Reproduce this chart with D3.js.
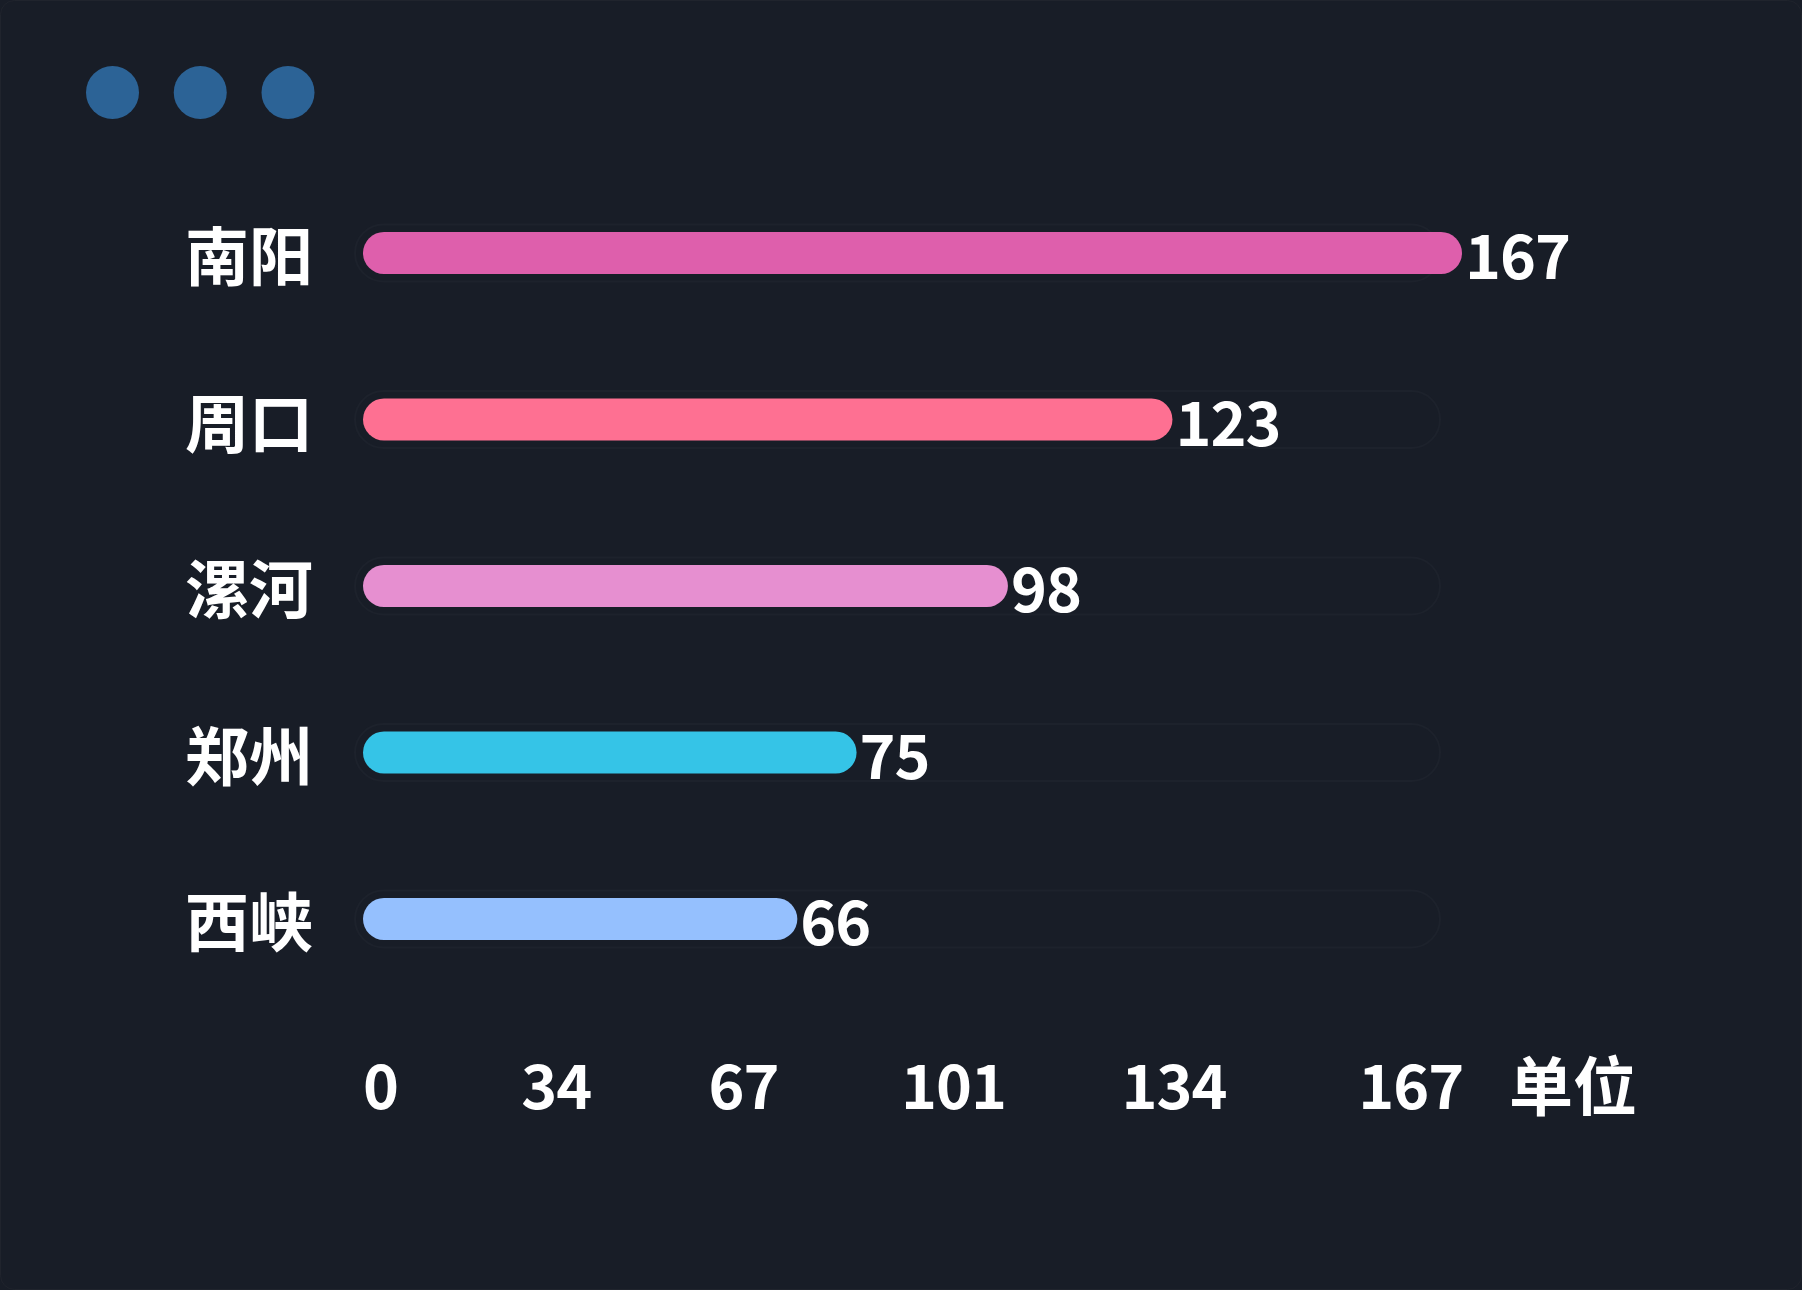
<!DOCTYPE html>
<html>
<head>
<meta charset="utf-8">
<script src="https://cdn.jsdelivr.net/npm/d3@7/dist/d3.min.js"></script>
<style>
  html, body { margin: 0; padding: 0; background: #181d27; }
  body { width: 1802px; height: 1290px; overflow: hidden; }
  svg { display: block; }
  text { font-family: "Noto Sans CJK SC", "Noto Sans", sans-serif; font-weight: 700; fill: #ffffff; }
</style>
</head>
<body>
<svg id="chart" width="1802" height="1290"></svg>
<script>
// ---- data ----
const categories = ["南阳", "周口", "漯河", "郑州", "西峡"];
const values = [167, 123, 98, 75, 66];
const tickLabels = [0, 34, 67, 101, 134, 167];
const unitLabel = "单位";

// ---- styles ----
const palette = ["#de5fac", "#fe7092", "#e68fd0", "#35c4e7", "#95c0fe"];
const bg = "#181d27";

const svg = d3.select("#chart");

// frame
svg.append("rect")
  .attr("x", 0.5).attr("y", 0.5)
  .attr("width", 1801).attr("height", 1289)
  .attr("rx", 14)
  .attr("fill", bg)
  .attr("stroke", "#20242d").attr("stroke-width", 1);

// window dots
const dotScale = d3.scalePoint().domain([0, 1, 2]).range([112.5, 288]);
svg.append("g").selectAll("circle")
  .data([0, 1, 2]).join("circle")
  .attr("cx", d => dotScale(d)).attr("cy", 92.5).attr("r", 26.5)
  .attr("fill", "#2c6396");

// scales
const x = d3.scaleLinear().domain([0, d3.max(values)]).range([363, 1462]);
const y = d3.scalePoint().domain(categories).range([253, 919]);
const barH = 42;

const rows = svg.append("g").selectAll("g")
  .data(categories.map((c, i) => ({ c, v: values[i], color: palette[i] })))
  .join("g")
  .attr("transform", d => `translate(0,${y(d.c)})`);

// background track
rows.append("rect")
  .attr("x", x(0) - 8).attr("y", -28.5)
  .attr("width", 1440 - x(0) + 8).attr("height", 57)
  .attr("rx", 28.5)
  .attr("fill", "none")
  .attr("stroke", "#1d222c").attr("stroke-width", 2);

// bars
rows.append("rect")
  .attr("x", x(0)).attr("y", -barH / 2)
  .attr("width", d => x(d.v) - x(0)).attr("height", barH)
  .attr("rx", barH / 2)
  .attr("fill", d => d.color);

// value labels
rows.append("text")
  .attr("x", d => x(d.v) + 3).attr("y", 26)
  .attr("font-size", 61)
  .attr("letter-spacing", -1)
  .text(d => d.v);

// category labels
rows.append("text")
  .attr("x", 313).attr("y", 27)
  .attr("text-anchor", "end")
  .attr("font-size", 64)
  .text(d => d.c);

// bottom axis labels (spacing in the source widens toward the right)
const tickPos = v => 380 + 4.916 * v + 0.0075 * v * v;
const tickScale = d3.scaleLinear().domain(tickLabels).range(tickLabels.map(tickPos));
const axis = svg.append("g")
  .attr("transform", "translate(0,1109)")
  .call(d3.axisBottom(tickScale).tickValues(tickLabels).tickSize(0).tickFormat(d3.format("d")));
axis.select(".domain").remove();
axis.attr("font-family", null).attr("font-size", null);
axis.selectAll("text")
  .attr("y", 0).attr("dy", 0)
  .attr("font-size", 61)
  .attr("letter-spacing", -1)
  .style("fill", "#ffffff");

svg.append("text")
  .attr("x", 1509).attr("y", 1110)
  .attr("font-size", 64)
  .text(unitLabel);
</script>
</body>
</html>
